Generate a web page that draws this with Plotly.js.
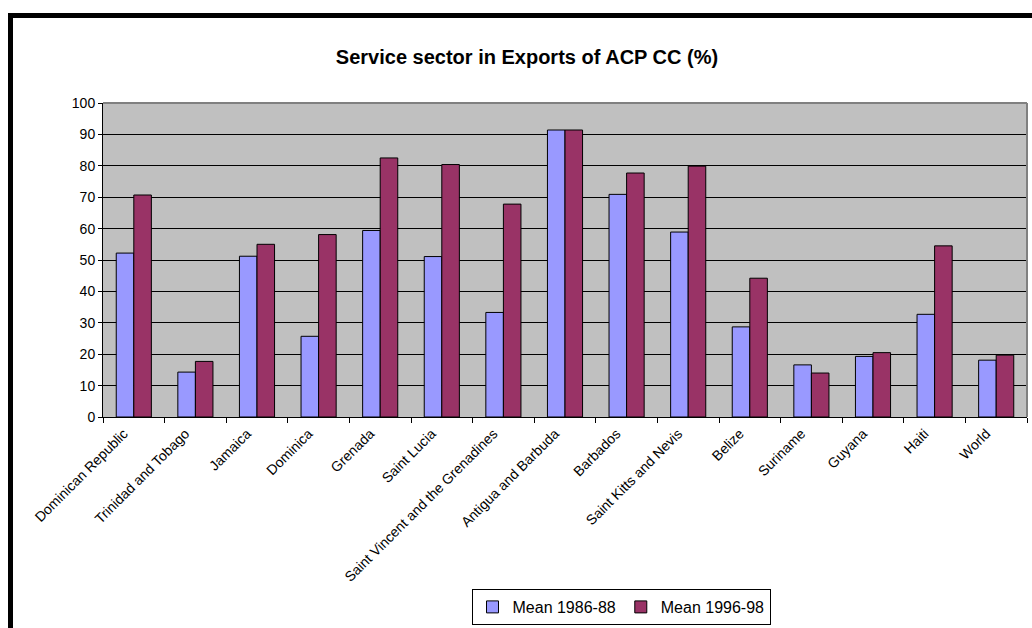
<!DOCTYPE html>
<html>
<head>
<meta charset="utf-8">
<script src="https://cdn.plot.ly/plotly-3.0.1.min.js"></script>
<style>
  html, body { margin: 0; padding: 0; overflow: hidden; background: #fff; }
  #chart { width: 1032px; height: 628px; }
  #frame { position: absolute; left: 8px; top: 13px; width: 2000px; height: 2000px;
           border-left: 5px solid #000; border-top: 5px solid #000; pointer-events: none; }
</style>
</head>
<body>
<div id="chart"></div>
<div id="frame"></div>
<script>
const categories = ["Dominican Republic", "Trinidad and Tobago", "Jamaica", "Dominica", "Grenada",
  "Saint Lucia", "Saint Vincent and the Grenadines", "Antigua and Barbuda", "Barbados",
  "Saint Kitts and Nevis", "Belize", "Suriname", "Guyana", "Haiti", "World"];
const mean1986_88 = [52.2, 14.3, 51.2, 25.7, 59.4, 51.1, 33.3, 91.4, 70.9, 58.9, 28.7, 16.6, 19.3, 32.7, 18.1];
const mean1996_98 = [70.7, 17.7, 55.0, 58.1, 82.5, 80.4, 67.8, 91.4, 77.7, 79.9, 44.2, 14.0, 20.5, 54.5, 19.7];
const seriesNames = ["Mean 1986-88", "Mean 1996-98"];
const yTicks = [0, 10, 20, 30, 40, 50, 60, 70, 80, 90, 100];

const font = "Arial, 'Liberation Sans', sans-serif";

const traces = [
  { type: "bar", name: seriesNames[0], x: categories, y: mean1986_88,
    marker: { color: "#9999FF", line: { color: "#000", width: 1 } } },
  { type: "bar", name: seriesNames[1], x: categories, y: mean1996_98,
    marker: { color: "#993366", line: { color: "#000", width: 1 } } }
];

const layout = {
  width: 1032, height: 628,
  margin: { l: 103, r: 5, t: 103, b: 211, autoexpand: false },
  paper_bgcolor: "#fff",
  plot_bgcolor: "#C0C0C0",
  font: { family: font, color: "#000", size: 14 },
  title: { text: "<b>Service sector in Exports of ACP CC (%)</b>",
           font: { family: font, size: 20, color: "#000" },
           xref: "container", x: 527/1032, xanchor: "center",
           yref: "container", y: 1 - 57/628, yanchor: "middle" },
  barmode: "group",
  bargap: 0.43,
  bargroupgap: 0,
  showlegend: true,
  legend: {
    orientation: "h", xref: "container", yref: "container",
    x: 621/1032, xanchor: "center", y: 1 - 625/628, yanchor: "bottom",
    bordercolor: "#000", borderwidth: 1, bgcolor: "#fff",
    font: { family: font, size: 16, color: "#000" },
    itemwidth: 30,
    traceorder: "normal"
  },
  xaxis: {
    type: "category",
    tickangle: -45,
    tickson: "boundaries",
    ticks: "outside", ticklen: 5, tickcolor: "#000",
    ticklabelshift: -10,
    ticklabelstandoff: 2,
    showline: true, linecolor: "#000", linewidth: 1,
    showgrid: false,
    tickfont: { family: font, size: 14, color: "#000" },
    fixedrange: true
  },
  yaxis: {
    range: [0, 100],
    tickvals: yTicks,
    ticktext: yTicks.map(String),
    ticks: "outside", ticklen: 4, tickcolor: "#000",
    showline: true, linecolor: "#000", linewidth: 1,
    showgrid: true, gridcolor: "#000", gridwidth: 1,
    zeroline: false,
    tickfont: { family: font, size: 14, color: "#000" },
    fixedrange: true
  },
  shapes: [
    { type: "line", xref: "paper", yref: "paper", x0: 0, x1: 1, y0: 1, y1: 1,
      line: { color: "#808080", width: 2 }, layer: "above" },
    { type: "line", xref: "paper", yref: "paper", x0: 1, x1: 1, y0: 0, y1: 1,
      line: { color: "#808080", width: 2 }, layer: "above" }
  ]
};

Plotly.newPlot("chart", traces, layout, { displayModeBar: false, staticPlot: true });
</script>
</body>
</html>
